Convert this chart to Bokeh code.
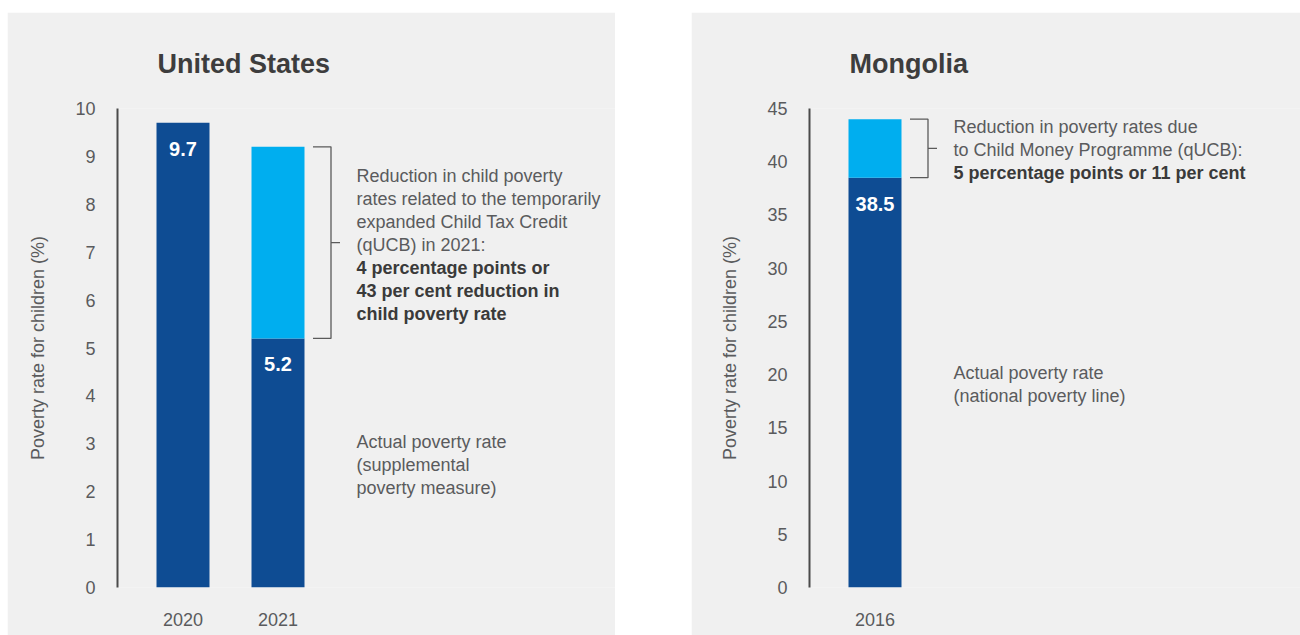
from bokeh.plotting import figure
from bokeh.models import Range1d, FixedTicker, Spacer
from bokeh.layouts import row, column
from bokeh.embed import file_html
from bokeh.resources import INLINE
from bokeh.core.properties import value

# ---------------- data ----------------
us_title = "United States"
us_years = ["2020", "2021"]
us_actual = [9.7, 5.2]          # actual poverty rate
us_reduction = [0.0, 4.0]       # reduction due to qUCB
us_yticks = list(range(0, 11, 1))
us_ymax = 10

mn_title = "Mongolia"
mn_years = ["2016"]
mn_actual = [38.5]
mn_reduction = [5.5]
mn_yticks = list(range(0, 46, 5))
mn_ymax = 45

y_label = "Poverty rate for children (%)"

us_reduction_note = [
    ("Reduction in child poverty", False),
    ("rates related to the temporarily", False),
    ("expanded Child Tax Credit", False),
    ("(qUCB) in 2021:", False),
    ("4 percentage points or", True),
    ("43 per cent reduction in", True),
    ("child poverty rate", True),
]
us_actual_note = [("Actual poverty rate", False), ("(supplemental", False), ("poverty measure)", False)]

mn_reduction_note = [
    ("Reduction in poverty rates due", False),
    ("to Child Money Programme (qUCB):", False),
    ("5 percentage points or 11 per cent", True),
]
mn_actual_note = [("Actual poverty rate", False), ("(national poverty line)", False)]

# ---------------- style ----------------
BG = "#f0f0f0"
DARK = "#0e4c93"
LIGHT = "#00aeef"
TXT = "#5a5b5d"
BOLD_TXT = "#3a3a3a"
FONT = "Liberation Sans"
PX = 95.0          # pixels per x unit
LINE_H = 23
H = 623


def add_block(p, x, y, lines):
    n = len(lines)
    for i, (t, bold) in enumerate(lines):
        p.text(x=[x], y=[y], text=[t], text_align="left", text_baseline="alphabetic",
               y_offset=(i - (n - 1) / 2) * LINE_H + 2,
               text_font=value(FONT), text_font_size="18px",
               text_font_style="bold" if bold else "normal",
               text_color=BOLD_TXT if bold else TXT)


def make_panel(title, cats, actual, reduction, yticks, ymax, width, left, red_note, act_note):
    n = len(cats)
    xs = list(range(n))
    frame_w = width - left
    x0 = -65.5 / PX
    x1 = x0 + frame_w / PX
    p = figure(width=width, height=H, x_range=Range1d(x0, x1), y_range=Range1d(0, ymax),
               output_backend="svg", toolbar_location=None, title=title,
               min_border_left=left, min_border_right=0, min_border_top=96,
               min_border_bottom=H - 96 - 479,
               background_fill_color=BG, border_fill_color=BG, outline_line_color=None)
    p.grid.visible = False

    t = p.title
    t.text_font = FONT
    t.text_font_size = "27px"
    t.text_font_style = "bold"
    t.text_color = "#3d3d3d"
    t.align = "left"
    t.offset = 40
    t.standoff = 60

    ya = p.yaxis[0]
    ya.ticker = FixedTicker(ticks=yticks)
    ya.axis_line_width = 2
    ya.axis_line_color = "#4a4a4a"
    ya.major_tick_line_color = None
    ya.minor_tick_line_color = None
    ya.major_label_standoff = 16
    ya.major_label_text_font = FONT
    ya.major_label_text_font_size = "18px"
    ya.major_label_text_color = TXT
    ya.axis_label = y_label
    ya.axis_label_text_font = FONT
    ya.axis_label_text_font_style = "normal"
    ya.axis_label_text_font_size = "18px"
    ya.axis_label_text_color = TXT
    ya.axis_label_standoff = 24

    xa = p.xaxis[0]
    xa.ticker = FixedTicker(ticks=xs)
    xa.major_label_overrides = {i: c for i, c in zip(xs, cats)}
    xa.axis_line_color = None
    xa.major_tick_line_color = None
    xa.minor_tick_line_color = None
    xa.major_label_standoff = 19
    xa.major_label_text_font = FONT
    xa.major_label_text_font_size = "18px"
    xa.major_label_text_color = TXT

    bw = 53 / PX
    tops = [a + r for a, r in zip(actual, reduction)]
    p.vbar(x=xs, bottom=0, top=actual, width=bw, fill_color=DARK, line_color=None)
    p.vbar(x=xs, bottom=actual, top=tops, width=bw, fill_color=LIGHT, line_color=None)

    p.text(x=xs, y=actual, text=[f"{v:.1f}" for v in actual], text_align="center",
           text_baseline="middle", y_offset=26, text_font=value(FONT), text_font_size="20px",
           text_font_style="bold", text_color="white")

    for xi, a, r in zip(xs, actual, reduction):
        if r <= 0:
            continue
        lo, hi = a, a + r
        mid = (lo + hi) / 2
        bx0, bx1, bx2 = xi + 35 / PX, xi + 53 / PX, xi + 62 / PX
        p.multi_line(xs=[[bx0, bx1, bx1, bx0], [bx1, bx2]], ys=[[hi, hi, lo, lo], [mid, mid]],
                     line_color="#5a5a5a", line_width=1.3)
        tx = xi + 78.5 / PX
        add_block(p, tx, mid, red_note)
        add_block(p, tx, a / 2, act_note)
    return p


p1 = make_panel(us_title, us_years, us_actual, us_reduction, us_yticks, us_ymax,
                608, 110, us_reduction_note, us_actual_note)
p2 = make_panel(mn_title, mn_years, mn_actual, mn_reduction, mn_yticks, mn_ymax,
                609, 118, mn_reduction_note, mn_actual_note)

layout = column(Spacer(height=12),
                row(Spacer(width=7), p1, Spacer(width=76), p2))
open("out.html", "w").write(file_html(layout, INLINE))
